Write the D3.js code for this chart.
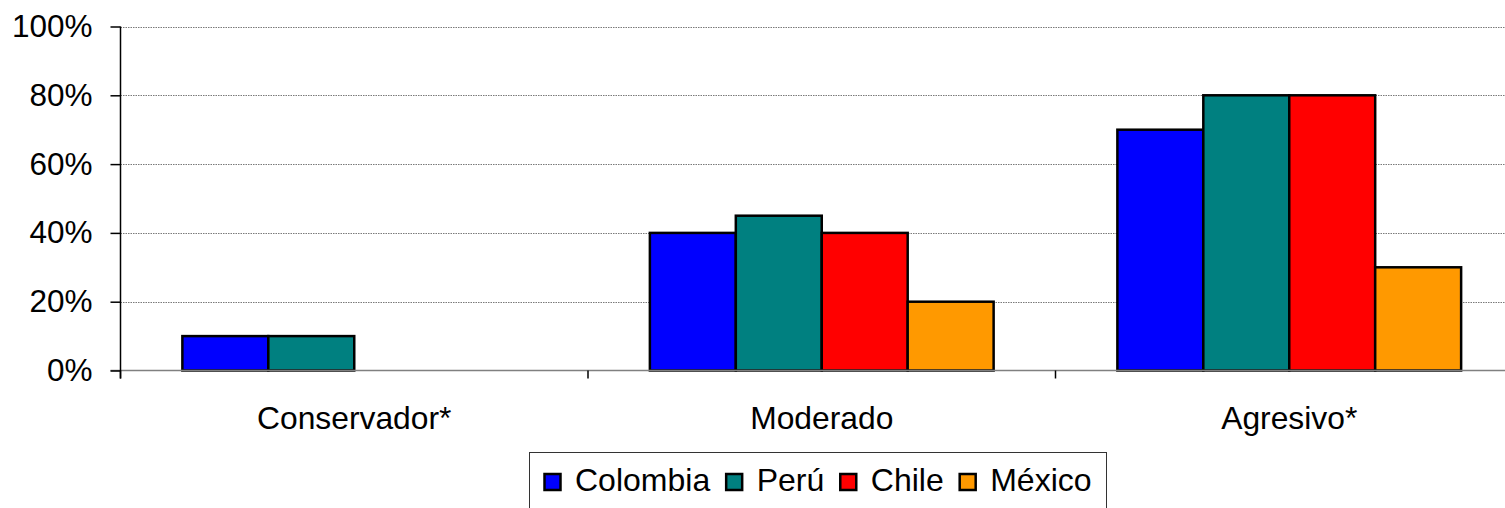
<!DOCTYPE html>
<html>
<head>
<meta charset="utf-8">
<script src="https://cdn.jsdelivr.net/npm/d3@7/dist/d3.min.js"></script>
<style>
  html, body { margin: 0; padding: 0; background: #fff; }
  svg { display: block; font-family: "Liberation Sans", Arial, sans-serif; }
</style>
</head>
<body>
<svg id="chart" width="1505" height="508"></svg>
<script>
// Categories and series values (share of each profile, 0..1)
const categories = ["Conservador*", "Moderado", "Agresivo*"];
const seriesNames = ["Colombia", "Perú", "Chile", "México"];
const colombia = [0.10, 0.40, 0.70];
const peru     = [0.10, 0.45, 0.80];
const chile    = [null, 0.40, 0.80];
const mexico   = [null, 0.20, 0.30];
const seriesColors = ["#0000FF", "#008080", "#FF0000", "#FF9900"];
const yTicks = [0, 0.2, 0.4, 0.6, 0.8, 1.0];

const seriesValues = [colombia, peru, chile, mexico];

const svg = d3.select("#chart");
const plot = { left: 120.5, top: 26.5, bottom: 370.5, band: 467.5 };

const x0 = d3.scaleBand()
  .domain(categories)
  .range([plot.left, plot.left + plot.band * categories.length])
  .paddingInner(0).paddingOuter(0);

const x1 = d3.scaleBand()
  .domain(seriesNames)
  .range([0, x0.bandwidth()])
  .paddingInner(0).paddingOuter(0.72);

const y = d3.scaleLinear().domain([0, 1]).range([plot.bottom, plot.top]);

// Horizontal gridlines (dotted)
svg.append("g")
  .selectAll("line")
  .data(yTicks.filter(d => d > 0))
  .join("line")
  .attr("x1", plot.left).attr("x2", 1505)
  .attr("y1", d => Math.round(y(d)) + 0.5).attr("y2", d => Math.round(y(d)) + 0.5)
  .attr("stroke", "#7a7a7a").attr("stroke-width", 1)
  .attr("stroke-dasharray", "1.5,1");

// Bars
const groups = svg.append("g")
  .selectAll("g")
  .data(categories)
  .join("g")
  .attr("transform", d => `translate(${x0(d)},0)`);

groups.selectAll("rect")
  .data((c, ci) => seriesNames.map((s, si) => ({ s, si, v: seriesValues[si][ci] })).filter(d => d.v != null))
  .join("rect")
  .attr("x", d => x1(d.s))
  .attr("width", x1.bandwidth())
  .attr("y", d => y(d.v))
  .attr("height", d => y(0) - y(d.v))
  .attr("fill", d => seriesColors[d.si])
  .attr("stroke", "#000").attr("stroke-width", 2.5);

// Baseline (0%)
svg.append("line")
  .attr("x1", plot.left - 10).attr("x2", 1505)
  .attr("y1", plot.bottom).attr("y2", plot.bottom)
  .attr("stroke", "#808080").attr("stroke-width", 1.5);

// Y axis
const yAxis = d3.axisLeft(y)
  .tickValues(yTicks)
  .tickFormat(d3.format(".0%"))
  .tickSize(10)
  .tickPadding(18);

const gy = svg.append("g")
  .attr("transform", `translate(${plot.left},0)`)
  .call(yAxis);
gy.select(".domain").attr("d", `M0,${plot.top}V${plot.bottom + 8}`).attr("stroke", "#000").attr("stroke-width", 1.5);
gy.selectAll(".tick line").attr("stroke", "#000").attr("stroke-width", 1.5);
gy.selectAll(".tick text")
  .attr("font-size", 31.5).attr("fill", "#000")
  .attr("font-family", "Liberation Sans, Arial, sans-serif");

// Category separators below the axis
const boundaries = d3.range(categories.length + 1).map(i => plot.left + i * x0.step());
svg.append("g")
  .selectAll("line")
  .data(boundaries)
  .join("line")
  .attr("x1", d => d).attr("x2", d => d)
  .attr("y1", plot.bottom).attr("y2", plot.bottom + 8)
  .attr("stroke", "#000").attr("stroke-width", 1.5);

// Category labels
svg.append("g")
  .selectAll("text")
  .data(categories)
  .join("text")
  .attr("x", d => x0(d) + x0.bandwidth() / 2)
  .attr("y", 429)
  .attr("text-anchor", "middle")
  .attr("font-size", 31.8)
  .text(d => d);

// Legend
const legend = svg.append("g");
legend.append("rect")
  .attr("x", 529.5).attr("y", 452.5)
  .attr("width", 577).attr("height", 80)
  .attr("fill", "#fff").attr("stroke", "#333").attr("stroke-width", 1);

let lx = 543.5;
seriesNames.forEach((name, i) => {
  legend.append("rect")
    .attr("x", lx + 1).attr("y", 474)
    .attr("width", 16).attr("height", 16)
    .attr("fill", seriesColors[i])
    .attr("stroke", "#000").attr("stroke-width", 2.5);
  const t = legend.append("text")
    .attr("x", lx + 31.5).attr("y", 491)
    .attr("font-size", 32)
    .text(name);
  lx = lx + 31.5 + t.node().getComputedTextLength() + 15;
});
</script>
</body>
</html>
